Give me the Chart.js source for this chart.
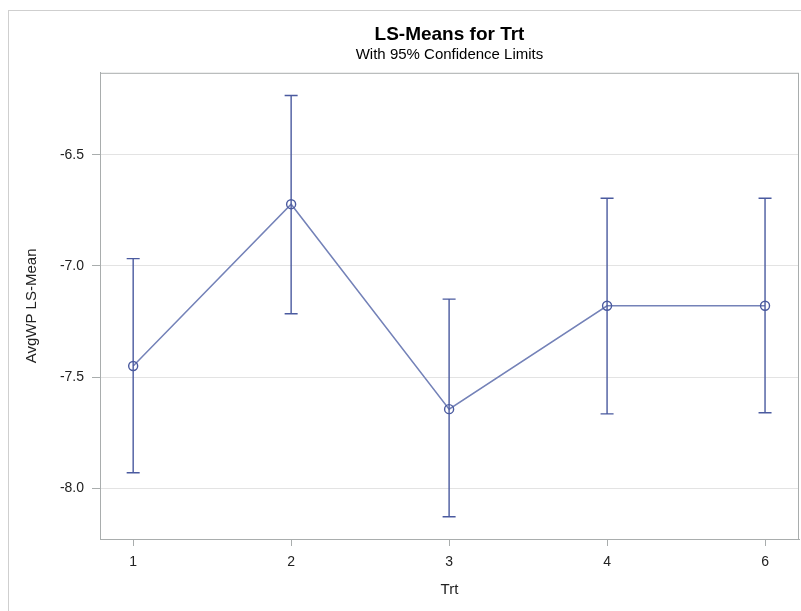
<!DOCTYPE html>
<html>
<head>
<meta charset="utf-8">
<script src="https://cdn.jsdelivr.net/npm/chart.js@4"></script>
<style>
  html, body { margin: 0; padding: 0; background: #fff; overflow: hidden; }
  #wrap { position: relative; width: 801px; height: 611px; }
  #frame { position: absolute; left: 8px; top: 10px; width: 900px; height: 700px;
           border: 1px solid #cfcfcf; box-sizing: border-box; }
  canvas { position: absolute; left: 0; top: 0; }
</style>
</head>
<body>
<div id="wrap">
  <div id="frame"></div>
  <canvas id="myChart" width="801" height="611"></canvas>
</div>
<script>
'use strict';

// LS-means and 95% limits per treatment
const categories = ['1', '2', '3', '4', '6'];
const means = [-7.450, -6.722, -7.644, -7.179, -7.179];
const upper = [-6.967, -6.233, -7.149, -6.695, -6.695];
const lower = [-7.930, -7.215, -8.128, -7.665, -7.660];
const yTicks = [-8.0, -7.5, -7.0, -6.5];

const font = 'Liberation Sans, Arial, sans-serif';

// whiskers with caps and hollow markers (drawn here so the point
// radius doesn't push the plot area in), plus the plot frame
const errorBars = {
    id: 'errorBars',
    beforeDatasetsDraw(chart) {
        const a = chart.chartArea, c = chart.ctx;
        c.save();
        c.strokeStyle = '#a9adad';
        c.lineWidth = 1;
        c.strokeRect(a.left + 0.5, a.top + 0.5, a.right - a.left - 1, a.bottom - a.top);
        c.restore();
    },
    afterDatasetsDraw(chart) {
        const c = chart.ctx;
        const xs = chart.scales.x, ys = chart.scales.y;
        c.save();
        c.strokeStyle = '#4a5a9f';
        c.lineWidth = 1.4;
        categories.forEach((cat, i) => {
            const px = xs.getPixelForValue(i);
            const top = ys.getPixelForValue(upper[i]);
            const bot = ys.getPixelForValue(lower[i]);
            c.beginPath();
            c.moveTo(px, top); c.lineTo(px, bot);
            c.moveTo(px - 6.5, top); c.lineTo(px + 6.5, top);
            c.moveTo(px - 6.5, bot); c.lineTo(px + 6.5, bot);
            c.stroke();
            c.beginPath();
            c.arc(px, ys.getPixelForValue(means[i]), 4.5, 0, Math.PI * 2);
            c.stroke();
        });
        c.restore();
    }
};

const ctx = document.getElementById('myChart');

new Chart(ctx, {
    type: 'line',
    data: {
        datasets: [{
            data: means.map((m, i) => ({ x: i, y: m })),
            borderColor: '#7482b8',
            borderWidth: 1.5,
            pointRadius: 0,
            tension: 0
        }]
    },
    options: {
        responsive: false,
        animation: false,
        layout: { padding: { left: 0, right: 2, top: 0, bottom: 0 } },
        plugins: {
            legend: { display: false },
            tooltip: { enabled: false },
            title: {
                display: true,
                fullSize: false,
                text: 'LS-Means for Trt',
                color: '#000',
                font: { family: font, size: 19, weight: 'bold' },
                padding: { top: 23, bottom: 0 }
            },
            subtitle: {
                display: true,
                fullSize: false,
                text: 'With 95% Confidence Limits',
                color: '#000',
                font: { family: font, size: 15 },
                padding: { top: 0, bottom: 9 }
            }
        },
        scales: {
            x: {
                type: 'linear',
                min: -0.21,
                max: 4.215,
                afterBuildTicks: s => { s.ticks = categories.map((c, i) => ({ value: i })); },
                afterFit: s => { s.height = 72; s.paddingLeft = 0; s.paddingRight = 0; },
                border: { color: '#a9adad' },
                grid: { drawOnChartArea: false, tickLength: 7, tickColor: '#a9adad' },
                ticks: {
                    padding: 8,
                    color: '#222',
                    font: { family: font, size: 14 },
                    callback: v => categories[v]
                },
                title: {
                    display: true,
                    text: 'Trt',
                    color: '#222',
                    font: { family: font, size: 15 },
                    padding: { top: 0, bottom: 12 }
                }
            },
            y: {
                min: -8.228,
                max: -6.131,
                afterBuildTicks: s => { s.ticks = yTicks.map(v => ({ value: v })); },
                afterFit: s => { s.width = 100; s.paddingTop = 0; s.paddingBottom = 0; },
                border: { color: '#a9adad' },
                grid: { color: '#e3e3e3', tickLength: 8, tickColor: '#a9adad' },
                ticks: {
                    padding: 8,
                    color: '#222',
                    font: { family: font, size: 14 },
                    callback: v => v.toFixed(1)
                },
                title: {
                    display: true,
                    text: 'AvgWP LS-Mean',
                    color: '#222',
                    font: { family: font, size: 15 },
                    padding: { top: 23, bottom: 0 }
                }
            }
        }
    },
    plugins: [errorBars]
});
</script>
</body>
</html>
